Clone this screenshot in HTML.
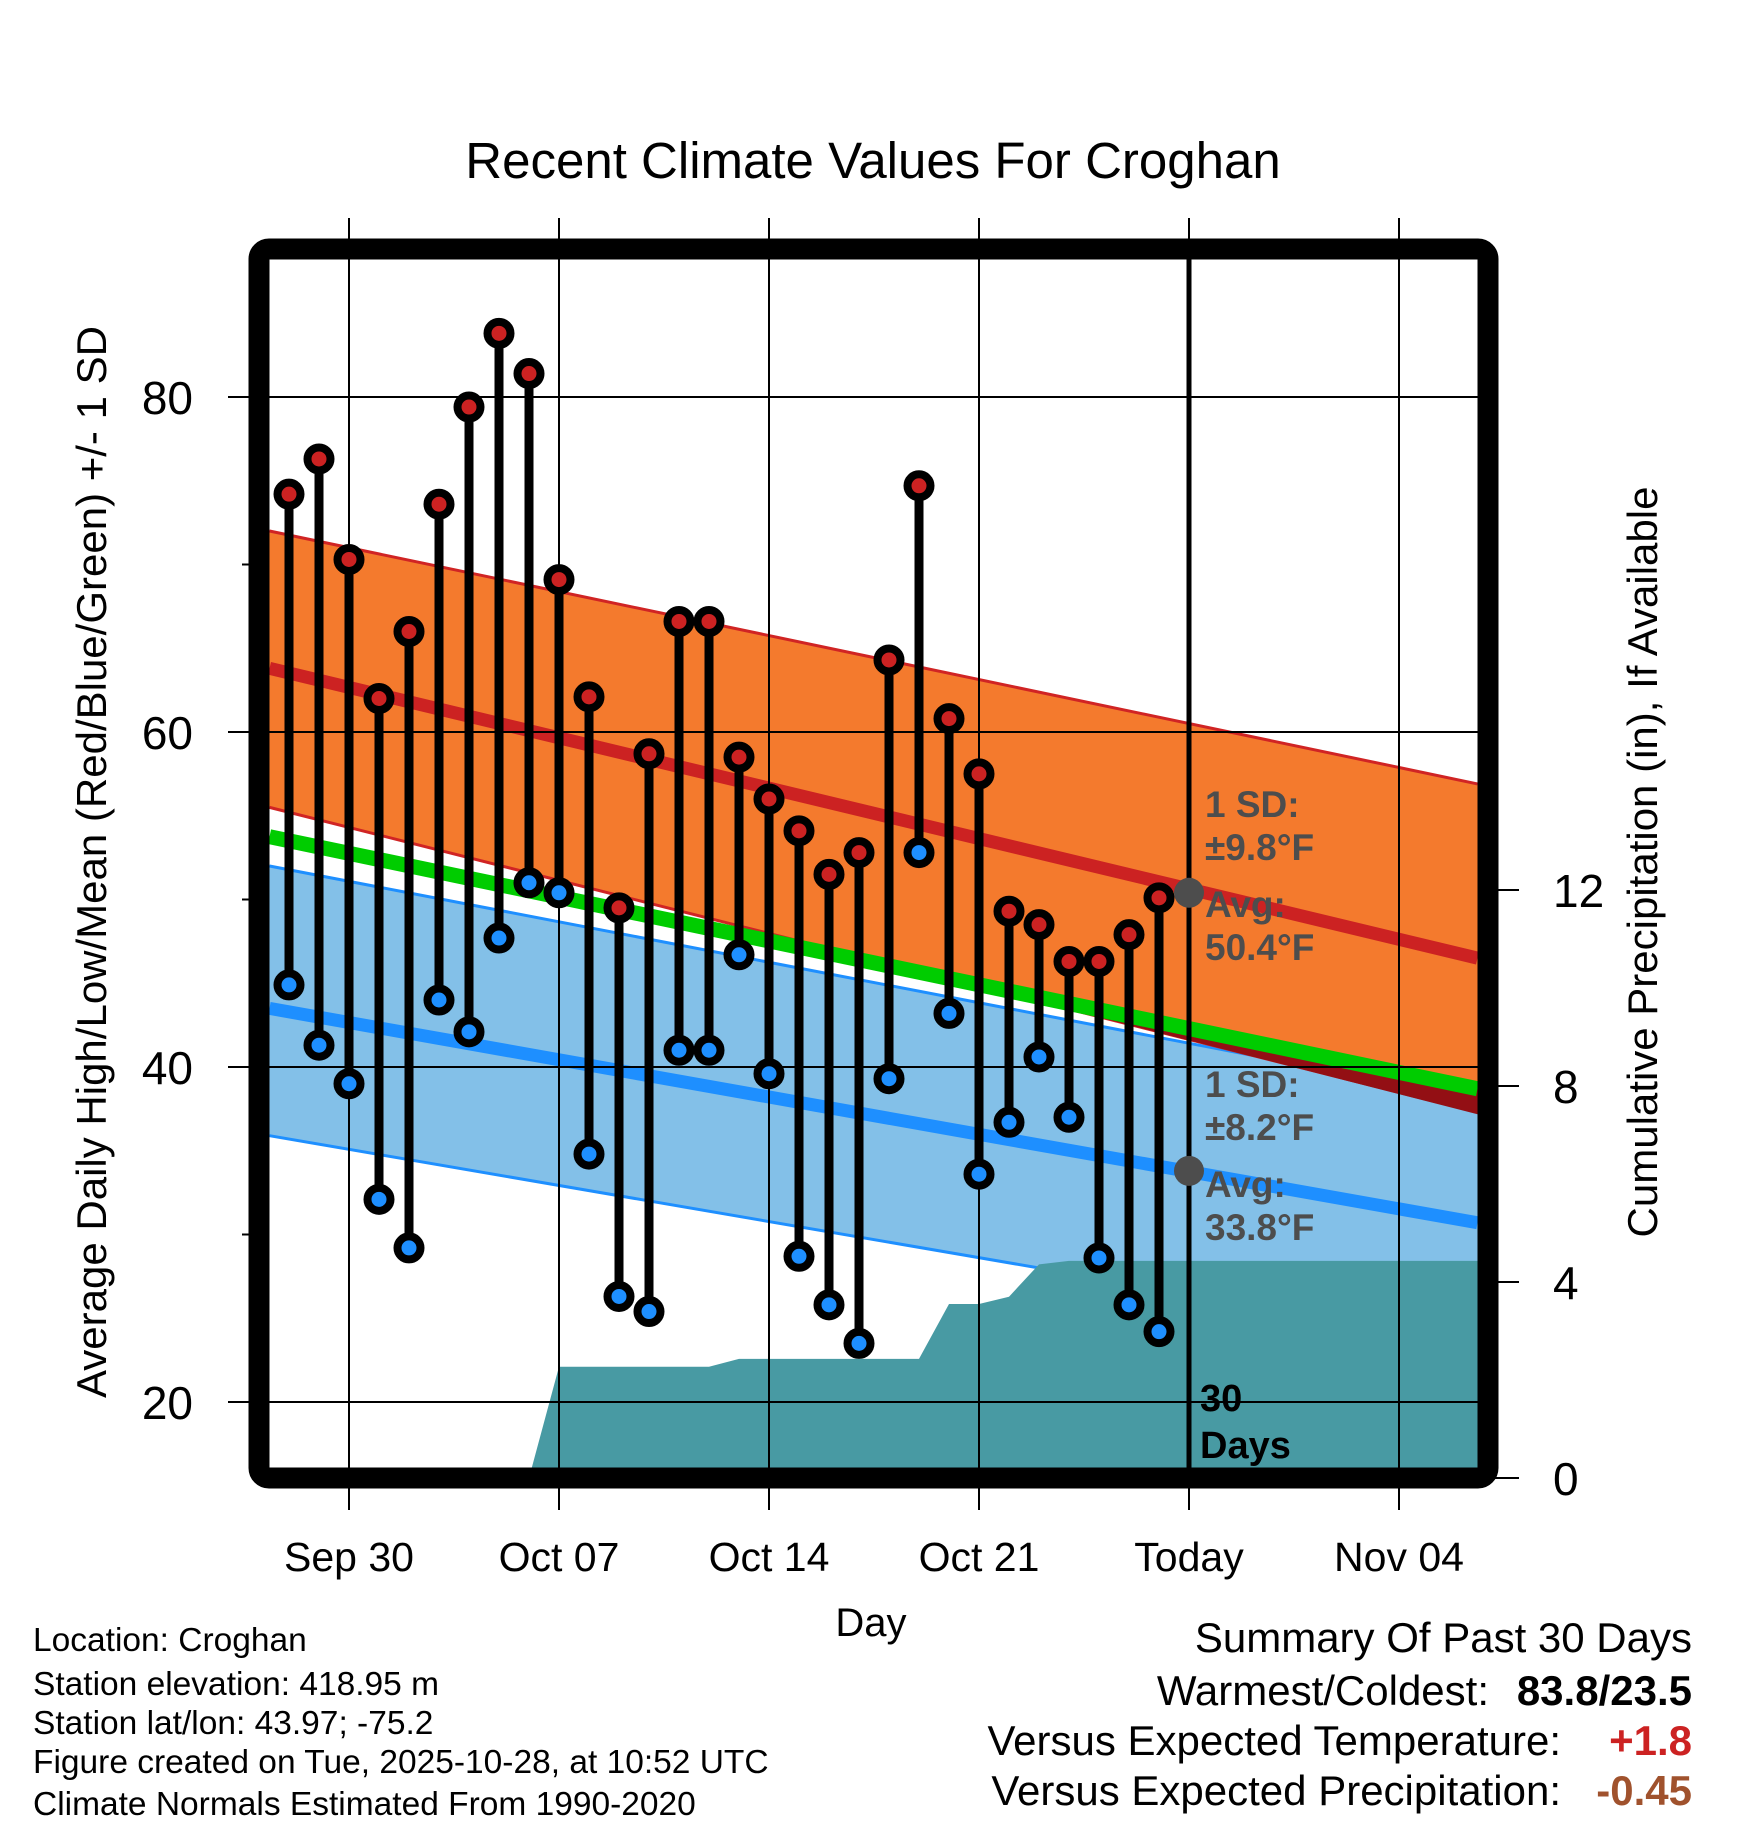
<!DOCTYPE html>
<html><head><meta charset="utf-8"><style>
html,body{margin:0;padding:0;background:#fff;}
svg{display:block;font-family:"Liberation Sans",sans-serif;}
</style></head><body>
<svg id="chart" xmlns="http://www.w3.org/2000/svg" width="1748" height="1828" viewBox="0 0 1748 1828">
<rect x="0" y="0" width="1748" height="1828" fill="#fff"/>
<g id="bands"></g>
<g id="precip"></g>
<g id="grid"></g>
<g id="marks"></g>
<g id="labels"></g>
<rect x="259" y="249" width="1229" height="1229" rx="10" fill="none" stroke="#000" stroke-width="21"/>
<text x="873" y="178" font-size="51" text-anchor="middle">Recent Climate Values For Croghan</text>
<text x="871" y="1636" font-size="40" text-anchor="middle">Day</text>
<text transform="translate(106,862) rotate(-90)" font-size="42" text-anchor="middle">Average Daily High/Low/Mean (Red/Blue/Green) +/- 1 SD</text>
<text transform="translate(1657,862) rotate(-90)" font-size="42" text-anchor="middle">Cumulative Precipitation (in), If Available</text>
<g font-size="33.5">
<text x="33" y="1651">Location: Croghan</text>
<text x="33" y="1695">Station elevation: 418.95 m</text>
<text x="33" y="1734">Station lat/lon: 43.97; -75.2</text>
<text x="33" y="1773">Figure created on Tue, 2025-10-28, at 10:52 UTC</text>
<text x="33" y="1815">Climate Normals Estimated From 1990-2020</text>
</g>
<g font-size="42">
<text x="1692" y="1652" text-anchor="end">Summary Of Past 30 Days</text>
<text x="1489" y="1705" text-anchor="end">Warmest/Coldest:</text>
<text x="1692" y="1705" text-anchor="end" font-weight="bold">83.8/23.5</text>
<text x="1561" y="1755" text-anchor="end">Versus Expected Temperature:</text>
<text x="1692" y="1755" text-anchor="end" font-weight="bold" fill="#cc2222">+1.8</text>
<text x="1561" y="1805" text-anchor="end">Versus Expected Precipitation:</text>
<text x="1692" y="1805" text-anchor="end" font-weight="bold" fill="#a0522d">-0.45</text>
</g>
</svg>
<script>
// ---- data ----
const highs=[74.2,76.3,70.3,62.0,66.0,73.6,79.4,83.8,81.4,69.1,62.1,49.5,58.7,66.6,66.6,58.5,56.0,54.1,51.5,52.8,64.3,74.7,60.8,57.5,49.3,48.5,46.3,46.3,47.9,50.1];
const lows=[44.9,41.3,39.0,32.1,29.2,44.0,42.1,47.7,51.0,50.4,34.8,26.3,25.4,41.0,41.0,46.7,39.6,28.7,25.8,23.5,39.3,52.8,43.2,33.6,36.7,40.6,37.0,28.6,25.8,24.2];
const precip=[0,0,0,0,0,0,0,0,0,2.27,2.27,2.27,2.27,2.27,2.27,2.43,2.43,2.43,2.43,2.43,2.43,2.43,3.55,3.55,3.7,4.36,4.43,4.43,4.43,4.43];
// normals at plot left edge and right edge [start,end]
const highMean=[63.8,46.5];
const highUpper=[72.0,56.9];
const highLower=[55.5,37.3];
const lowMean=[43.5,30.7];
const lowUpper=[52.0,38.1];
const lowLower=[35.9,23.5];
const meanLine=[53.75,38.7];
const todayHigh=50.4, todayLow=33.8;
const xTickLabels=["Sep 30","Oct 07","Oct 14","Oct 21","Today","Nov 04"];
const xTickDays=[2,9,16,23,30,37];
const yTicks=[20,40,60,80];
const yMinor=[30,50,70];
const pTicks=[0,4,8,12];
// ---- axes ----
const L=269.5,R=1477.5,T=259.5,B=1467.5;
const x=i=>289+30*i;
const y=t=>397+(80-t)*16.75;
const yp=p=>1478-p*49;
const ns="http://www.w3.org/2000/svg";
function mk(tag,parent,attrs){const e=document.createElementNS(ns,tag);for(const k in attrs)e.setAttribute(k,attrs[k]);document.getElementById(parent).appendChild(e);return e;}
function band(a,b){return `${L},${y(a[0])} ${R},${y(a[1])} ${R},${y(b[1])} ${L},${y(b[0])}`;}
let e;
e=mk('polygon','bands',{points:band(highUpper,highLower),fill:'#f47a2d'});


e=mk('polygon','bands',{points:band(lowUpper,lowLower),fill:'#83c0e8'});


[[highUpper,'#d02424',3,'high-upper-line'],[lowUpper,'#1e8fff',3,'low-upper-line'],[lowLower,'#1e8fff',3,'low-lower-line'],[highLower,'#d02424',3,'high-lower-line']].forEach(s=>{
e=mk('line','bands',{x1:L,y1:y(s[0][0]),x2:R,y2:y(s[0][1]),stroke:s[1],'stroke-width':s[2]});


});
// dark red overlap between mean line and high lower edge
{const d0=highLower[0]-meanLine[0],d1=highLower[1]-meanLine[1];const f=d0/(d0-d1);const xc=L+(R-L)*f;const yc=y(meanLine[0]+(meanLine[1]-meanLine[0])*f);
e=mk('polygon','bands',{points:`${xc},${yc} ${R},${y(meanLine[1])} ${R},${y(highLower[1])+2}`,fill:'#930f14'});

}
[[meanLine,'#00cc00',15,'mean-normal-line'],[highMean,'#cc2222',13,'high-normal-line'],[lowMean,'#1e8fff',13,'low-normal-line']].forEach(s=>{
e=mk('line','bands',{x1:L,y1:y(s[0][0]),x2:R,y2:y(s[0][1]),stroke:s[1],'stroke-width':s[2]});


});
// precip area
{let pts=`${x(8)},${yp(0)} `;for(let i=8;i<precip.length;i++)pts+=`${x(i)},${yp(precip[i])} `;pts+=`${R},${yp(precip[precip.length-1])} ${R},${yp(0)}`;
e=mk('polygon','precip',{points:pts,fill:'#489aa3'});

}
// grid
yTicks.forEach(t=>{
e=mk('line','grid',{x1:228,y1:y(t),x2:R,y2:y(t),stroke:'#000','stroke-width':2});


e=mk('text','labels',{x:193,y:y(t)+17,'font-size':46,'text-anchor':'end'});e.textContent=t;


});
yMinor.forEach(t=>{
e=mk('line','grid',{x1:242,y1:y(t),x2:252,y2:y(t),stroke:'#000','stroke-width':2});


});
pTicks.forEach(p=>{
e=mk('line','grid',{x1:1490,y1:yp(p),x2:1519,y2:yp(p),stroke:'#000','stroke-width':2});


e=mk('text','labels',{x:1553,y:yp(p)+17,'font-size':46});e.textContent=p;


});
xTickDays.forEach((d,k)=>{
e=mk('line','grid',{x1:x(d),y1:218,x2:x(d),y2:1510,stroke:'#000','stroke-width':2});


e=mk('text','labels',{x:x(d),y:1571,'font-size':41,'text-anchor':'middle'});e.textContent=xTickLabels[k];


});
// marks
highs.forEach((h,i)=>{
e=mk('line','marks',{x1:x(i),y1:y(h),x2:x(i),y2:y(lows[i]),stroke:'#000','stroke-width':9});


});
highs.forEach((h,i)=>{
e=mk('circle','marks',{cx:x(i),cy:y(h),r:11.5,fill:'#cc2222',stroke:'#000','stroke-width':8});


e=mk('circle','marks',{cx:x(i),cy:y(lows[i]),r:11.5,fill:'#1e8fff',stroke:'#000','stroke-width':8});


});
e=mk('line','marks',{x1:x(30),y1:T,x2:x(30),y2:B,stroke:'#000','stroke-width':5});


[todayHigh,todayLow].forEach(v=>{
e=mk('circle','marks',{cx:x(30),cy:y(v),r:15,fill:'#4d4d4d'});


});
const ann=[["1 SD:",817],["±9.8°F",860],["Avg:",917],[todayHigh.toFixed(1)+"°F",960],["1 SD:",1097],["±8.2°F",1140],["Avg:",1197],[todayLow.toFixed(1)+"°F",1240]];
ann.forEach(a=>{
e=mk('text','labels',{x:1205,y:a[1],'font-size':37,'font-weight':'bold',fill:'#4d4d4d'});e.textContent=a[0];


});
[["30",1411],["Days",1458]].forEach(a=>{
e=mk('text','labels',{x:1200,y:a[1],'font-size':38,'font-weight':'bold'});e.textContent=a[0];


});
</script>
</body></html>
